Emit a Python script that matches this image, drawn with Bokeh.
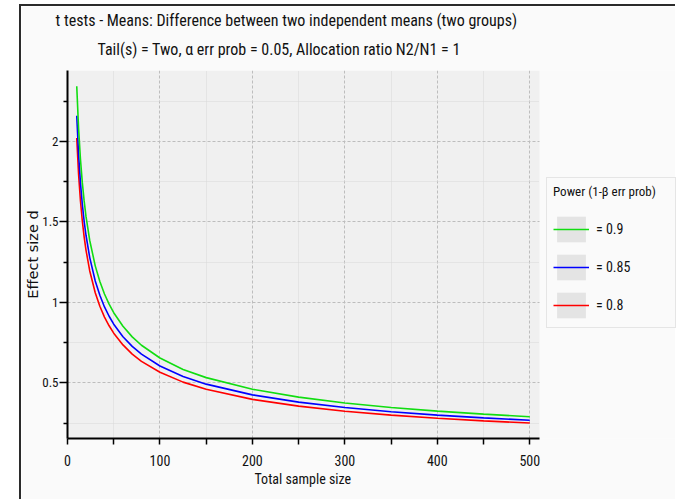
from bokeh.plotting import figure
from bokeh.models import (BoxAnnotation, ColumnDataSource, FixedTicker, Legend, LegendItem,
                          NumeralTickFormatter, Range1d, Title)
from bokeh.embed import file_html
from bokeh.resources import INLINE

# ---- data ----
total_n = [10, 12, 14, 16, 18, 20, 24, 30, 35, 40, 45, 50, 60, 70, 80, 100, 125, 150,
           200, 250, 300, 350, 400, 450, 500]
d_power_090 = [2.342, 2.078, 1.890, 1.745, 1.630, 1.534, 1.386, 1.227, 1.130, 1.052,
               0.989, 0.936, 0.852, 0.786, 0.734, 0.655, 0.584, 0.533, 0.461, 0.412,
               0.3755, 0.3475, 0.325, 0.3063, 0.2905]
d_power_085 = [2.159, 1.917, 1.744, 1.611, 1.504, 1.417, 1.280, 1.133, 1.044, 0.972,
               0.914, 0.865, 0.787, 0.727, 0.679, 0.605, 0.540, 0.4925, 0.426, 0.381,
               0.3471, 0.3212, 0.3004, 0.2831, 0.2685]
d_power_080 = [2.021, 1.794, 1.631, 1.507, 1.407, 1.325, 1.197, 1.060, 0.976, 0.909,
               0.855, 0.809, 0.736, 0.679, 0.634, 0.566, 0.505, 0.4605, 0.398, 0.356,
               0.3246, 0.3004, 0.2809, 0.2647, 0.2511]
series_labels = ["= 0.9", "= 0.85", "= 0.8"]
x_major = [0, 100, 200, 300, 400, 500]
x_minor = [50, 150, 250, 350, 450]
y_major = [0.5, 1, 1.5, 2]
y_minor = [0.25, 0.75, 1.25, 1.75, 2.25]
x_extent = (0, 510.5)      # visible x extent of the plotting area
y_extent = (0.155, 2.44)

title_text = "t tests - Means: Difference between two independent means (two groups)"
subtitle_text = "Tail(s) = Two, \u03b1 err prob = 0.05, Allocation ratio N2/N1 = 1"
legend_title = "Power (1-\u03b2 err prob)"
x_label = "Total sample size"
y_label = "Effect size d"

NARROW = "Roboto Condensed"
TXT = "#111111"

# frame spans to the right edge so the legend can sit beside the plotting area
FRAME_W = 610
PLOT_W = 472
x_end = x_extent[0] + (x_extent[1] - x_extent[0]) * FRAME_W / PLOT_W

p = figure(width=656, height=495, output_backend="svg", toolbar_location=None, title=None,
           x_range=Range1d(x_extent[0], x_end), y_range=Range1d(*y_extent),
           min_border_left=46, min_border_top=64, min_border_right=0, min_border_bottom=63)
p.margin = (4, 0, 0, 19)
p.styles = {"border-left": "2px solid #2b2b2b", "border-top": "2px solid #2b2b2b"}
p.border_fill_color = "#fafafa"
p.background_fill_color = "#fafafa"
p.outline_line_color = None

# gray plotting area
p.add_layout(BoxAnnotation(left=x_extent[0], right=x_extent[1], fill_color="#f0f0f0",
                           fill_alpha=1, line_color=None, level="image"))

# axes
for ax in (p.xaxis, p.yaxis):
    ax.axis_line_width = 2
    ax.axis_line_color = "black"
    ax.major_tick_in = 0
    ax.minor_tick_in = 0
    ax.major_tick_line_width = 1.5
    ax.minor_tick_line_width = 1.5
    ax.major_tick_line_color = "black"
    ax.minor_tick_line_color = "black"
    ax.major_label_text_font = NARROW
    ax.major_label_text_color = TXT
    ax.axis_label_text_font_style = "normal"
    ax.axis_label_text_color = TXT

p.xaxis.bounds = x_extent
p.xaxis.ticker = FixedTicker(ticks=x_major, minor_ticks=x_minor)
p.yaxis.ticker = FixedTicker(ticks=y_major, minor_ticks=y_minor)
p.yaxis.formatter = NumeralTickFormatter(format="0.[0]")
p.xaxis.major_tick_out = 6
p.xaxis.minor_tick_out = 6
p.yaxis.major_tick_out = 8
p.yaxis.minor_tick_out = 4
p.xaxis.major_label_text_font_size = "14px"
p.yaxis.major_label_text_font_size = "13px"
p.xaxis.major_label_standoff = 10
p.yaxis.major_label_standoff = 1
p.yaxis.axis_label = y_label
p.yaxis.axis_label_text_font = "DejaVu Sans"
p.yaxis.axis_label_text_font_size = "14.5px"
p.yaxis.axis_label_standoff = -2

# grids
for g in (p.xgrid, p.ygrid):
    g.grid_line_color = "#bdbdbd"
    g.grid_line_dash = "3 2"
    g.grid_line_width = 1
    g.minor_grid_line_color = "#d9d9d9"
    g.minor_grid_line_dash = "1 1"
    g.minor_grid_line_width = 1
p.ygrid.cross_bounds = x_extent

# lines
src = ColumnDataSource(dict(n=total_n, d90=d_power_090, d85=d_power_085, d80=d_power_080))
r80 = p.line("n", "d80", source=src, line_color="#ff0000", line_width=1.6)
r85 = p.line("n", "d85", source=src, line_color="#0000ff", line_width=1.6)
r90 = p.line("n", "d90", source=src, line_color="#11dd11", line_width=1.6)

# gray swatch behind legend glyphs (no visible data)
nan = float("nan")
sw_src = ColumnDataSource(dict(left=[nan], right=[nan], top=[nan], bottom=[nan]))
sw = p.quad(left="left", right="right", top="top", bottom="bottom", source=sw_src,
            fill_color="#e4e4e4", line_color=None)

legend = Legend(items=[LegendItem(label=series_labels[0], renderers=[sw, r90]),
                       LegendItem(label=series_labels[1], renderers=[sw, r85]),
                       LegendItem(label=series_labels[2], renderers=[sw, r80])],
                location=(479, 110))
legend.title = legend_title
legend.title_text_font = NARROW
legend.title_text_font_size = "13px"
legend.title_text_font_style = "normal"
legend.title_text_color = TXT
legend.title_standoff = 14
legend.label_text_font = NARROW
legend.label_text_font_size = "14px"
legend.label_text_color = TXT
legend.glyph_width = 36
legend.glyph_height = 32
legend.label_standoff = 7
legend.label_width = 73
legend.spacing = 6
legend.padding = 6
legend.margin = 0
legend.border_line_color = "#cfcfcf"
legend.border_line_width = 1.5
legend.background_fill_color = "#fafafa"
legend.background_fill_alpha = 1
p.add_layout(legend, "center")

# titles (subtitle closest to the plot, main title above it)
p.add_layout(Title(text=subtitle_text, align="left", offset=30, standoff=20,
                   vertical_align="top",
                   text_font=NARROW, text_font_size="16px", text_font_style="normal",
                   text_color=TXT), "above")
p.add_layout(Title(text=title_text, align="left", offset=-12, standoff=0,
                   vertical_align="bottom",
                   text_font=NARROW, text_font_size="16px", text_font_style="normal",
                   text_color=TXT), "above")

# x axis label as a title below the axis, centred under the plotting area
p.add_layout(Title(text=x_label, align="left", offset=187, standoff=4,
                   vertical_align="top",
                   text_font=NARROW, text_font_size="14px", text_font_style="normal",
                   text_color=TXT), "below")

open("out.html", "w").write(file_html(p, INLINE))
